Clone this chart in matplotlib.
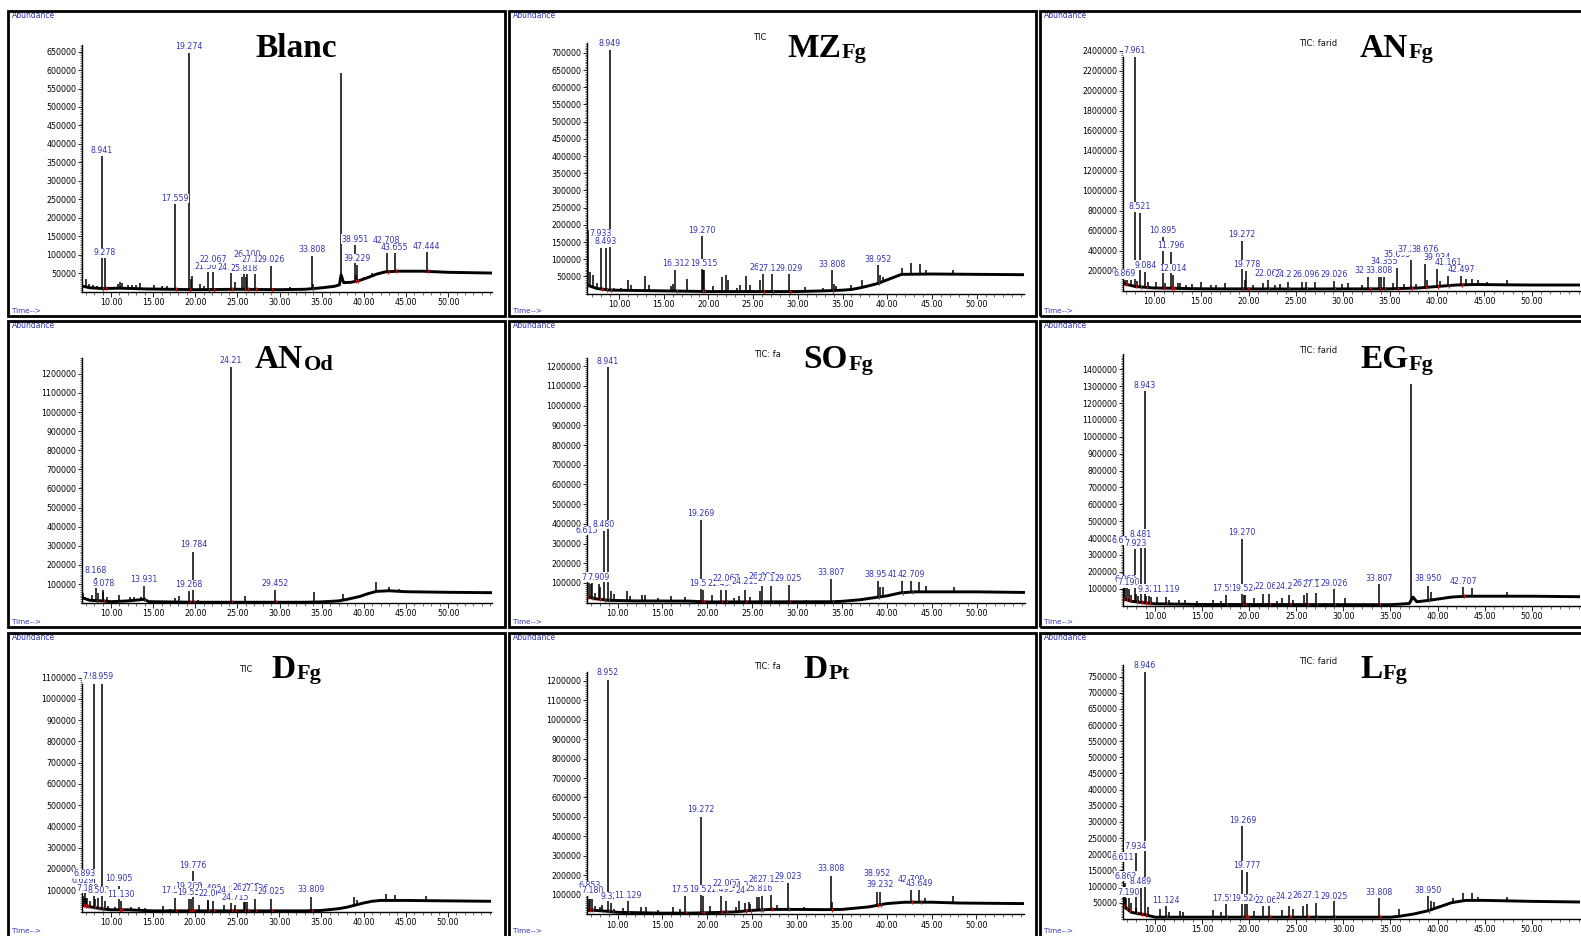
import numpy as np
import matplotlib
matplotlib.use("Agg")
import matplotlib.pyplot as plt
from matplotlib.patches import Rectangle
from matplotlib.ticker import MultipleLocator, FixedLocator, FormatStrFormatter

plt.rcParams['font.family'] = ['DejaVu Sans']

# ====================== DATA ======================
# ---- Blanc ----
blanc_base_rt = [6.5, 7.5, 9.0, 11.0, 14.0, 20.0, 25.0, 30.0, 33.0, 35.0, 36.5, 37.1, 37.3, 37.6, 38.5, 39.5, 40.5, 41.5, 42.5, 44.0, 47.0, 50.0, 55.2]
blanc_base_ab = [15000, 10000, 8000, 9000, 7000, 5000, 6000, 5000, 6000, 10000, 14000, 18000, 45000, 24000, 25000, 30000, 38000, 47000, 53000, 55000, 55000, 52000, 50000]
blanc_rt = [8.941, 9.278, 17.559, 19.274, 21.502, 22.067, 24.231, 25.818, 26.100, 27.126, 29.026, 33.808, 38.951, 39.229, 42.708, 43.655, 47.444]
blanc_ab = [366000, 90000, 237000, 647000, 52000, 52000, 50000, 48000, 48000, 48000, 70000, 97000, 127000, 73000, 106000, 104000, 107000]
blanc_lab = ["8.941", "9.278", "17.559", "19.274", "21.502", "22.067", "24.231", "25.818", "26.100", "27.126", "29.026", "33.808", "38.951", "39.229", "42.708", "43.655", "47.444"]
blanc_minor_rt = [6.6, 7.0, 7.4, 7.9, 8.3, 10.8, 11.1, 11.3, 12.0, 12.5, 13.0, 13.4, 15.1, 16.1, 16.6, 19.45, 19.65, 20.5, 21.0, 24.7, 25.6, 26.0, 31.2, 33.95, 35.9, 37.24, 39.05, 40.0, 41.0]
blanc_minor_ab = [25000, 34000, 20000, 18000, 15000, 20000, 27000, 22000, 18000, 17000, 18000, 22000, 18000, 14000, 16000, 35000, 43000, 21000, 16000, 27000, 38000, 40000, 12000, 20000, 15000, 593000, 45000, 40000, 50000]

# ---- MZ Fg ----
mz_base_rt = [6.4, 7.5, 9.0, 12.0, 20.0, 30.0, 33.0, 35.0, 36.0, 37.0, 38.0, 39.0, 40.0, 41.0, 41.6, 45.0, 50.0, 55.3]
mz_base_ab = [25000, 15000, 10000, 9000, 6000, 6000, 8000, 10000, 12000, 17000, 23000, 30000, 40000, 50000, 56000, 57000, 56000, 55000]
mz_rt = [7.933, 8.493, 8.949, 16.312, 19.270, 19.515, 26.097, 27.126, 29.029, 33.808, 38.952]
mz_ab = [133000, 133000, 709000, 70000, 167000, 70000, 57000, 57000, 57000, 68000, 82000]
mz_lab = ["7.933", "8.493", "8.949", "16.312", "19.270", "19.515", "26.097", "27.126", "29.029", "33.808", "38.952"]
mz_minor_rt = [6.55, 6.8, 7.1, 7.5, 9.4, 10.2, 11.0, 11.3, 12.9, 13.4, 15.8, 16.0, 17.6, 19.4, 20.5, 21.5, 22.0, 22.2, 23.2, 23.5, 24.2, 24.7, 25.8, 30.8, 32.8, 34.0, 34.3, 35.9, 37.2, 39.2, 39.5, 41.6, 42.7, 43.7, 44.3, 47.4]
mz_minor_ab = [185000, 62000, 55000, 30000, 15000, 15000, 40000, 25000, 52000, 26000, 23000, 29000, 43000, 70000, 23000, 47000, 54000, 40000, 15000, 26000, 52000, 26000, 40000, 19000, 17000, 29000, 23000, 26000, 40000, 53000, 48000, 74000, 89000, 86000, 69000, 68000]

# ---- AN Fg ----
anfg_base_rt = [6.7, 8.0, 10.0, 15.0, 25.0, 35.0, 38.0, 40.0, 42.0, 44.0, 47.0, 50.0, 55.2]
anfg_base_ab = [70000, 40000, 25000, 17000, 15000, 17000, 25000, 40000, 55000, 60000, 57000, 55000, 55000]
anfg_rt = [6.869, 7.961, 8.521, 9.084, 10.895, 11.796, 12.014, 19.272, 19.778, 22.067, 24.213, 26.096, 29.026, 32.713, 33.808, 34.355, 35.695, 37.249, 38.676, 39.934, 41.161, 42.497]
anfg_ab = [107000, 2340000, 773000, 190000, 533000, 387000, 157000, 500000, 200000, 107000, 90000, 90000, 97000, 140000, 140000, 140000, 223000, 307000, 267000, 213000, 147000, 147000]
anfg_lab = ["6.869", "7.961", "8.521", "9.084", "10.895", "11.796", "12.014", "19.272", "19.778", "22.067", "24.213", "26.096", "29.026", "32.713", "33.808", "34.355", "35.695", "37.249", "38.676", "39.934", "41.161", "42.497"]
anfg_minor_rt = [6.75, 7.1, 7.5, 8.2, 9.4, 10.2, 11.2, 12.5, 12.7, 13.4, 14.0, 15.0, 16.0, 16.6, 17.5, 19.6, 20.5, 21.5, 22.8, 23.3, 25.7, 27.0, 29.9, 30.5, 32.0, 34.0, 35.3, 36.5, 37.8, 38.9, 40.3, 43.0, 43.7, 44.3, 45.3, 47.4, 50.4]
anfg_minor_ab = [120000, 110000, 107000, 100000, 90000, 90000, 75000, 73000, 73000, 60000, 67000, 83000, 57000, 60000, 80000, 110000, 57000, 73000, 60000, 63000, 83000, 90000, 63000, 73000, 60000, 140000, 80000, 70000, 70000, 110000, 100000, 120000, 113000, 107000, 85000, 107000, 65000]

# ---- AN Od ----
anod_base_rt = [6.5, 7.5, 9.0, 10.0, 12.0, 13.9, 14.5, 20.0, 33.0, 35.0, 37.0, 38.0, 39.5, 40.5, 41.5, 43.0, 45.0, 50.0, 55.2]
anod_base_ab = [30000, 15000, 12000, 8000, 12000, 20000, 8000, 5000, 5000, 7000, 12000, 20000, 35000, 50000, 62000, 65000, 60000, 57000, 55000]
anod_rt = [8.168, 9.078, 13.931, 19.268, 19.784, 24.21, 29.452]
anod_ab = [131000, 70000, 87500, 65000, 270000, 1238000, 70000]
anod_lab = ["8.168", "9.078", "13.931", "19.268", "19.784", "24.21", "29.452"]
anod_minor_rt = [6.55, 6.7, 7.8, 8.5, 9.0, 9.5, 11.0, 12.3, 12.7, 13.5, 17.6, 18.1, 20.3, 25.9, 34.1, 37.5, 41.5, 43.0, 44.2]
anod_minor_ab = [175000, 52000, 44000, 52000, 60000, 30000, 44000, 35000, 30000, 30000, 26000, 38000, 18000, 38000, 56000, 47000, 113000, 87000, 75000]

# ---- SO Fg ----
so_base_rt = [6.6, 7.5, 9.0, 12.0, 18.0, 20.0, 34.0, 35.0, 37.0, 38.5, 40.0, 41.5, 43.0, 50.0, 55.3]
so_base_ab = [30000, 20000, 12000, 9000, 8000, 4000, 5000, 7000, 15000, 25000, 35000, 50000, 55000, 55000, 52000]
so_rt = [6.615, 7.190, 7.909, 8.480, 8.941, 19.269, 19.524, 21.493, 22.067, 24.213, 26.097, 27.126, 29.025, 33.807, 38.954, 41.602, 42.709]
so_ab = [337000, 100000, 95000, 365000, 1195000, 421000, 66000, 66000, 66000, 66000, 83000, 86000, 91000, 120000, 112000, 108000, 108000]
so_lab = ["6.615", "7.190", "7.909", "8.480", "8.941", "19.269", "19.524", "21.493", "22.067", "24.213", "26.097", "27.126", "29.025", "33.807", "38.954", "41.602", "42.709"]
so_minor_rt = [6.8, 7.0, 7.5, 8.1, 9.3, 9.6, 11.0, 11.4, 12.7, 13.0, 14.5, 16.0, 17.5, 20.5, 23.0, 23.5, 24.7, 25.8, 31.0, 35.9, 39.2, 39.5, 43.6, 44.3, 47.4]
so_minor_ab = [100000, 95000, 50000, 80000, 57000, 45000, 61000, 35000, 40000, 38000, 25000, 35000, 30000, 40000, 25000, 35000, 30000, 61000, 12000, 15000, 78000, 78000, 103000, 83000, 78000]

# ---- EG Fg ----
eg_base_rt = [6.6, 7.5, 9.0, 10.0, 15.0, 35.0, 36.0, 37.0, 37.4, 37.8, 39.0, 40.0, 41.5, 43.0, 50.0, 55.2]
eg_base_ab = [40000, 25000, 15000, 10000, 6000, 5000, 8000, 12000, 50000, 22000, 30000, 38000, 50000, 55000, 55000, 52000]
eg_rt = [6.611, 6.862, 7.190, 7.923, 8.481, 8.943, 9.325, 11.119, 17.557, 19.270, 19.524, 22.067, 24.213, 26.097, 27.126, 29.026, 33.807, 38.950, 42.707]
eg_ab = [343000, 116000, 100000, 333000, 383000, 1271000, 57000, 53000, 62000, 396000, 62000, 66000, 60000, 76000, 76000, 100000, 126000, 116000, 110000]
eg_lab = ["6.611", "6.862", "7.190", "7.923", "8.481", "8.943", "9.325", "11.119", "17.557", "19.270", "19.524", "22.067", "24.213", "26.097", "27.126", "29.026", "33.807", "38.950", "42.707"]
eg_minor_rt = [6.7, 7.0, 7.5, 8.0, 8.2, 9.0, 9.6, 10.2, 11.5, 12.5, 13.2, 14.5, 16.2, 17.0, 19.4, 20.5, 21.5, 23.0, 23.5, 24.7, 25.8, 30.2, 37.2, 39.3, 43.7, 47.4]
eg_minor_ab = [150000, 130000, 60000, 70000, 57000, 57000, 50000, 52000, 35000, 30000, 35000, 25000, 30000, 25000, 62000, 43000, 66000, 28000, 43000, 32000, 60000, 47000, 1311000, 80000, 106000, 82000]

# ---- D Fg ----
dfg_base_rt = [6.5, 7.5, 9.0, 10.0, 12.0, 15.0, 33.0, 35.0, 37.0, 38.0, 39.0, 40.0, 41.0, 42.0, 45.0, 50.0, 55.1]
dfg_base_ab = [30000, 22000, 12000, 8000, 8000, 3000, 3000, 5000, 13000, 20000, 30000, 40000, 48000, 52000, 52000, 50000, 48000]
dfg_rt = [6.629, 6.893, 7.190, 7.932, 8.503, 8.959, 10.905, 11.130, 17.557, 19.268, 19.524, 19.776, 21.496, 22.067, 24.213, 24.715, 25.816, 26.097, 27.126, 29.025, 33.809]
dfg_ab = [71000, 150000, 63000, 1069000, 64000, 1069000, 118000, 51000, 64000, 60000, 60000, 189000, 55000, 51000, 40000, 30000, 45000, 64000, 60000, 59000, 67000]
dfg_lab = ["6.629", "6.893", "7.190", "7.932", "8.503", "8.959", "10.905", "11.130", "17.557", "19.268", "19.524", "19.776", "21.496", "22.067", "24.213", "24.715", "25.816", "26.097", "27.126", "29.025", "33.809"]
dfg_minor_rt = [6.6, 6.75, 7.0, 7.5, 8.1, 9.3, 9.7, 10.5, 12.4, 13.3, 14.0, 16.2, 17.0, 20.4, 21.5, 23.4, 25.9, 37.0, 38.9, 39.2, 42.7, 43.7, 47.4]
dfg_minor_ab = [71000, 65000, 63000, 50000, 60000, 48000, 25000, 20000, 20000, 20000, 15000, 28000, 13000, 30000, 48000, 30000, 48000, 18000, 67000, 52000, 83000, 79000, 75000]

# ---- D Pt ----
dpt_base_rt = [6.6, 7.5, 9.0, 10.0, 15.0, 18.0, 20.0, 23.0, 25.0, 27.0, 30.0, 33.0, 35.0, 38.0, 40.0, 42.0, 45.0, 48.0, 55.3]
dpt_base_ab = [20000, 20000, 15000, 10000, 6000, 6000, 8000, 12000, 20000, 25000, 25000, 24000, 25000, 38000, 55000, 62000, 62000, 58000, 55000]
dpt_rt = [6.853, 7.180, 8.952, 9.325, 11.129, 17.557, 19.272, 19.524, 21.493, 22.067, 24.213, 24.715, 25.816, 26.097, 27.126, 29.023, 33.808, 38.952, 39.232, 42.709, 43.649]
dpt_ab = [80000, 80000, 1204000, 57000, 66000, 95000, 499000, 95000, 95000, 66000, 60000, 55000, 91000, 100000, 100000, 160000, 199000, 117000, 117000, 126000, 126000]
dpt_lab = ["6.853", "7.180", "8.952", "9.325", "11.129", "17.557", "19.272", "19.524", "21.493", "22.067", "24.213", "24.715", "25.816", "26.097", "27.126", "29.023", "33.808", "38.952", "39.232", "42.709", "43.649"]
dpt_minor_rt = [6.6, 6.9, 7.5, 8.0, 8.3, 9.6, 10.6, 12.6, 13.2, 14.5, 16.2, 17.0, 20.3, 23.2, 23.5, 24.7, 25.6, 27.8, 30.8, 33.9, 44.3, 47.4]
dpt_minor_ab = [80000, 80000, 45000, 40000, 50000, 28000, 32000, 35000, 35000, 20000, 35000, 28000, 45000, 40000, 66000, 62000, 87000, 50000, 40000, 62000, 86000, 95000]

# ---- L Fg ----
lfg_base_rt = [6.6, 7.5, 9.0, 10.0, 35.0, 36.0, 37.5, 39.0, 40.0, 41.5, 43.0, 45.0, 50.0, 55.2]
lfg_base_ab = [40000, 20000, 12000, 5000, 5000, 8000, 15000, 25000, 35000, 50000, 57000, 57000, 54000, 52000]
lfg_rt = [6.611, 6.862, 7.190, 7.934, 8.489, 8.946, 11.124, 17.557, 19.269, 19.524, 19.777, 22.067, 24.213, 26.097, 27.126, 29.025, 33.808, 38.950]
lfg_ab = [168000, 112000, 63000, 205000, 96000, 765000, 39000, 45000, 287000, 45000, 146000, 39000, 41000, 47000, 50000, 55000, 63000, 70000]
lfg_lab = ["6.611", "6.862", "7.190", "7.934", "8.489", "8.946", "11.124", "17.557", "19.269", "19.524", "19.777", "22.067", "24.213", "26.097", "27.126", "29.025", "33.808", "38.950"]
lfg_minor_rt = [6.7, 6.9, 7.5, 8.0, 9.3, 10.5, 11.5, 12.6, 13.0, 16.2, 17.0, 20.5, 21.5, 23.5, 24.7, 25.7, 35.9, 39.3, 39.6, 41.6, 42.7, 43.7, 44.3, 47.4]
lfg_minor_ab = [100000, 63000, 50000, 34000, 36000, 29000, 22000, 24000, 20000, 26000, 20000, 24000, 41000, 26000, 30000, 41000, 29000, 55000, 52000, 65000, 81000, 81000, 67000, 67000]

# ====================== LAYOUT (label heights are placement only) ======================
blanc_lab_y = [370000, 93000, 240000, 651000, 55000, 74000, 53000, 51000, 89000, 74000, 74000, 101000, 130000, 77000, 126000, 106000, 110000]
mz_lab_y = [161000, 137000, 714000, 74000, 171000, 74000, 63000, 61000, 61000, 71000, 85000]
anfg_lab_y = [120000, 2355000, 793000, 210000, 553000, 403000, 174000, 513000, 214000, 124000, 114000, 114000, 114000, 154000, 154000, 244000, 317000, 363000, 363000, 287000, 237000, 163000]
anod_lab_y = [146000, 79000, 98000, 72000, 282000, 1245000, 79000]
so_lab_y = [343000, 107000, 107000, 374000, 1203000, 430000, 73000, 73000, 98000, 85000, 110000, 98000, 98000, 132000, 120000, 120000, 120000]
eg_lab_y = [359000, 128000, 108000, 341000, 395000, 1278000, 69000, 69000, 73000, 406000, 73000, 88000, 88000, 102000, 98000, 106000, 133000, 133000, 118000]
dfg_lab_y = [123000, 156000, 89000, 1085000, 76000, 1085000, 136000, 61000, 78000, 97000, 68000, 195000, 86000, 65000, 76000, 47000, 80000, 93000, 86000, 72000, 84000]
dpt_lab_y = [124000, 98500, 1217000, 68000, 76000, 102000, 514000, 102000, 102000, 134000, 127000, 98000, 107000, 155000, 155000, 171000, 211000, 188000, 131000, 155000, 134000]
lfg_lab_y = [177000, 118000, 68000, 211000, 101000, 770000, 44000, 50000, 290000, 48000, 151000, 44000, 54000, 58000, 58000, 56000, 68000, 75000]

W, H = 1581, 936
BLUE = '#3434b4'
fig = plt.figure(figsize=(W / 100, H / 100), dpi=100)


def fx(x):
    return x / W


def fy(y):
    return 1 - y / H


PANELS = [
    dict(box=(8, 11, 505, 316), time_y=311, ax=(81.7, 491.7, 291.5, 45.0), xlim=(6.52, 55.17), ymax=668000,
         ystep=50000, yrange=(50000, 650000), spine_top=None, title=('Blanc', ''), txy=(255, 56.7), tic=None,
         d=(blanc_base_rt, blanc_base_ab, blanc_rt, blanc_ab, blanc_lab, blanc_lab_y, blanc_minor_rt, blanc_minor_ab)),
    dict(box=(509, 11, 1036, 316), time_y=311, ax=(587, 1024, 293.6, 43.3), xlim=(6.42, 55.3), ymax=728000,
         ystep=50000, yrange=(50000, 700000), spine_top=None, title=('MZ', 'Fg'), txy=(787, 56.7), tic=('TIC', 753.5, 38),
         d=(mz_base_rt, mz_base_ab, mz_rt, mz_ab, mz_lab, mz_lab_y, mz_minor_rt, mz_minor_ab)),
    dict(box=(1040, 11, 1620, 316), time_y=311, ax=(1123, 1580, 290.5, 50.5), xlim=(6.7, 55.13), ymax=2400000,
         ystep=200000, yrange=(200000, 2400000), spine_top=2340000, title=('AN', 'Fg'), txy=(1360, 56.7), tic=('TIC: farid', 1299, 43.3),
         d=(anfg_base_rt, anfg_base_ab, anfg_rt, anfg_ab, anfg_lab, anfg_lab_y, anfg_minor_rt, anfg_minor_ab)),
    dict(box=(8, 321, 505, 627), time_y=622, ax=(81.7, 491.7, 603.2, 358.3), xlim=(6.52, 55.17), ymax=1281000,
         ystep=100000, yrange=(100000, 1200000), spine_top=None, title=('AN', 'Od'), txy=(255, 368.3), tic=None,
         d=(anod_base_rt, anod_base_ab, anod_rt, anod_ab, anod_lab, anod_lab_y, anod_minor_rt, anod_minor_ab)),
    dict(box=(509, 321, 1036, 627), time_y=622, ax=(587, 1024.6, 602.7, 358.3), xlim=(6.6, 55.3), ymax=1240000,
         ystep=100000, yrange=(100000, 1200000), spine_top=None, title=('SO', 'Fg'), txy=(803.5, 368.3), tic=('TIC: fa', 754, 354.3),
         d=(so_base_rt, so_base_ab, so_rt, so_ab, so_lab, so_lab_y, so_minor_rt, so_minor_ab)),
    dict(box=(1040, 321, 1620, 627), time_y=622, ax=(1123, 1580, 605.5, 354.3), xlim=(6.6, 55.13), ymax=1489000,
         ystep=100000, yrange=(100000, 1400000), spine_top=None, title=('EG', 'Fg'), txy=(1360, 368.3), tic=('TIC: farid', 1299, 350.7),
         d=(eg_base_rt, eg_base_ab, eg_rt, eg_ab, eg_lab, eg_lab_y, eg_minor_rt, eg_minor_ab)),
    dict(box=(8, 633, 505, 960), time_y=931, ax=(81.7, 490.7, 911.5, 677.7), xlim=(6.52, 55.1), ymax=1100000,
         ystep=100000, yrange=(100000, 1100000), spine_top=1069000, title=('D', 'Fg'), txy=(271.7, 677.7), tic=('TIC', 239, 669),
         d=(dfg_base_rt, dfg_base_ab, dfg_rt, dfg_ab, dfg_lab, dfg_lab_y, dfg_minor_rt, dfg_minor_ab)),
    dict(box=(509, 633, 1036, 960), time_y=931, ax=(587, 1024, 914.3, 671.7), xlim=(6.6, 55.3), ymax=1246000,
         ystep=100000, yrange=(100000, 1200000), spine_top=None, title=('D', 'Pt'), txy=(803.5, 677.7), tic=('TIC: fa', 754, 666.7),
         d=(dpt_base_rt, dpt_base_ab, dpt_rt, dpt_ab, dpt_lab, dpt_lab_y, dpt_minor_rt, dpt_minor_ab)),
    dict(box=(1040, 633, 1620, 960), time_y=931, ax=(1123, 1580, 918.8, 665.0), xlim=(6.6, 55.13), ymax=786000,
         ystep=50000, yrange=(50000, 750000), spine_top=None, title=('L', 'Fg'), txy=(1360, 677.7), tic=('TIC: farid', 1299, 661.7),
         d=(lfg_base_rt, lfg_base_ab, lfg_rt, lfg_ab, lfg_lab, lfg_lab_y, lfg_minor_rt, lfg_minor_ab)),
]

titles = []
for p in PANELS:
    x0, y0, x1, y1 = p['box']
    fig.add_artist(Rectangle((fx(x0), fy(y1)), (x1 - x0) / W, (y1 - y0) / H, transform=fig.transFigure,
                             fill=False, lw=2.0, ec='black', zorder=10))
    fig.text(fx(x0 + 4), fy(y0 + 5), 'Abundance', fontsize=5.5, color=BLUE, ha='left', va='center')
    fig.text(fx(x0 + 4), fy(p['time_y']), 'Time-->', fontsize=5.2, color=BLUE, ha='left', va='center')

    l, r, b, t = p['ax']
    ax = fig.add_axes([fx(l), fy(b), (r - l) / W, (b - t) / H])
    ax.patch.set_visible(False)
    base_rt, base_ab, rt, ab, lab, lab_y, mrt, mab = p['d']
    all_rt = np.concatenate([rt, mrt])
    all_ab = np.concatenate([ab, mab])
    foot = np.interp(all_rt, base_rt, base_ab)
    ax.vlines(all_rt, foot, all_ab, colors='black', lw=1.1, zorder=2)
    ax.plot(base_rt, base_ab, color='black', lw=2.1, zorder=2.2, solid_joinstyle='round')
    ax.plot(np.asarray(rt) + 0.12, np.interp(rt, base_rt, base_ab), ls='none', marker='|', ms=3.5,
            mew=0.9, color='#cc1111', zorder=2.3)
    for xv, yv, s in zip(rt, lab_y, lab):
        ax.text(xv, yv, s, ha='center', va='bottom', fontsize=5.7, color=BLUE, zorder=5, clip_on=False,
                bbox=dict(boxstyle='square,pad=0.05', fc='white', ec='none'))

    ax.set_xlim(*p['xlim'])
    ax.set_ylim(0, p['ymax'])
    ax.xaxis.set_major_locator(FixedLocator(np.arange(10, 51, 5)))
    ax.xaxis.set_major_formatter(FormatStrFormatter('%.2f'))
    ax.xaxis.set_minor_locator(MultipleLocator(1))
    ax.yaxis.set_major_locator(FixedLocator(np.arange(p['yrange'][0], p['yrange'][1] + 1, p['ystep'])))
    ax.yaxis.set_major_formatter(FormatStrFormatter('%d'))
    ax.yaxis.set_minor_locator(MultipleLocator(p['ystep'] / 10))
    ax.tick_params(axis='both', which='major', direction='out', labelsize=5.7, pad=1, width=0.6, length=3)
    ax.tick_params(axis='both', which='minor', direction='out', width=0.4, length=1.5)
    ax.tick_params(axis='x', which='major', length=3.5)
    ax.tick_params(axis='x', which='minor', length=2.2)
    for sp in ('top', 'right'):
        ax.spines[sp].set_visible(False)
    ax.spines['left'].set_linewidth(1.0)
    ax.spines['bottom'].set_linewidth(1.0)
    if p['spine_top'] is not None:
        ax.spines['left'].set_bounds(0, p['spine_top'])

    if p['tic'] is not None:
        s, tx, ty = p['tic']
        fig.text(fx(tx), fy(ty), s, fontsize=6, color='#111111', ha='left', va='center')
    main, sub = p['title']
    t1 = fig.text(fx(p['txy'][0]), fy(p['txy'][1]), main, fontsize=24, fontweight='bold',
                  family='Liberation Serif', ha='left', va='baseline')
    titles.append((t1, sub, p['txy'][1]))

renderer = fig.canvas.get_renderer()
for t1, sub, yb in titles:
    if sub:
        bb = t1.get_window_extent(renderer=renderer)
        fig.text(fx(bb.x1 + 0.5), fy(yb + 1.5), sub, fontsize=16, fontweight='bold',
                 family='Liberation Serif', ha='left', va='baseline')

fig.savefig('out.png', dpi=100)
